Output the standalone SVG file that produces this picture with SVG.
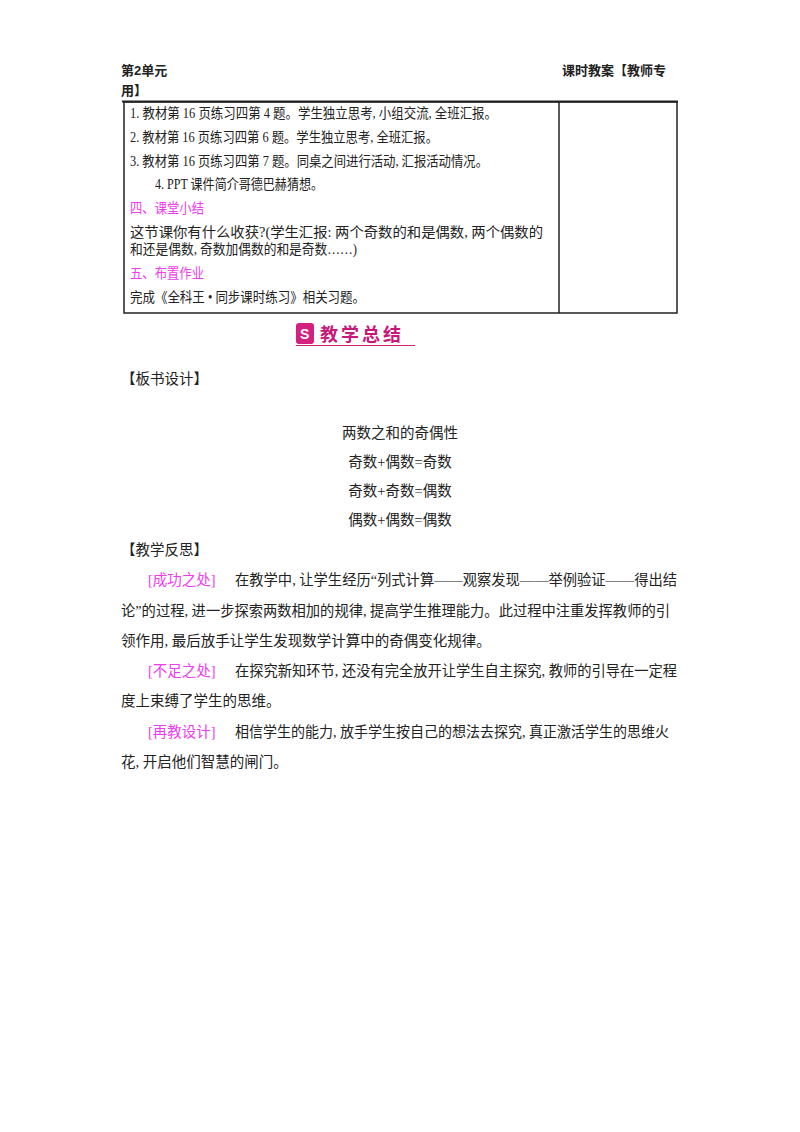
<svg xmlns="http://www.w3.org/2000/svg" width="800" height="1132" viewBox="0 0 800 1132">
<style>
text{font-family:"Liberation Serif","Noto Sans CJK SC",serif;fill:#222;}
.h{font-family:"Liberation Sans","Noto Sans CJK SC",sans-serif;font-size:13px;font-weight:bold;}
.t{font-size:14px;}
.m{fill:#f03cf0;}
.p{font-size:14.5px;}
</style>
<rect width="800" height="1132" fill="#fff"/>
<g id="header">
<text class="h" x="121" y="75">第2单元</text>
<text class="h" x="121" y="95">用】</text>
<text class="h" x="562" y="75">课时教案【教师专</text>
</g>
<g id="table" fill="none" stroke="#222">
<line x1="122" y1="101.5" x2="678" y2="101.5" stroke-width="2"/>
<rect x="124" y="102" width="553" height="211" stroke-width="1.5"/>
<line x1="559" y1="102" x2="559" y2="313" stroke-width="1.5"/>
</g>
<g id="table-text" class="t">
<text x="130" y="118" textLength="367" lengthAdjust="spacingAndGlyphs">1. 教材第 16 页练习四第 4 题。学生独立思考, 小组交流, 全班汇报。</text>
<text x="130" y="142" textLength="308" lengthAdjust="spacingAndGlyphs">2. 教材第 16 页练习四第 6 题。学生独立思考, 全班汇报。</text>
<text x="130" y="166" textLength="358" lengthAdjust="spacingAndGlyphs">3. 教材第 16 页练习四第 7 题。同桌之间进行活动, 汇报活动情况。</text>
<text x="155" y="189" textLength="168" lengthAdjust="spacingAndGlyphs">4. PPT 课件简介哥德巴赫猜想。</text>
<text x="130" y="213" class="m" textLength="74" lengthAdjust="spacingAndGlyphs">四、课堂小结</text>
<text x="130" y="237" textLength="413" lengthAdjust="spacingAndGlyphs">这节课你有什么收获?(学生汇报: 两个奇数的和是偶数, 两个偶数的</text>
<text x="130" y="254" textLength="227" lengthAdjust="spacingAndGlyphs">和还是偶数, 奇数加偶数的和是奇数……)</text>
<text x="130" y="278" class="m" textLength="74" lengthAdjust="spacingAndGlyphs">五、布置作业</text>
<text x="130" y="302" textLength="235" lengthAdjust="spacingAndGlyphs">完成《全科王 • 同步课时练习》相关习题。</text>
</g>
<g id="logo">
<rect x="296" y="323" width="18" height="21" rx="3" fill="#d4217f"/>
<text x="300" y="339" style="font-size:14px;fill:#fff;font-weight:bold;font-family:'Liberation Sans',sans-serif">S</text>
<text x="320" y="341" style="font-size:18px;font-weight:bold;fill:#c8197a;font-family:'Noto Sans CJK SC',sans-serif;letter-spacing:3px">教学总结</text>
<line x1="296" y1="345.5" x2="415" y2="345.5" stroke="#d4217f" stroke-width="1"/>
</g>
<g id="board" class="p">
<text x="121" y="384">【板书设计】</text>
<text x="400" y="438" text-anchor="middle">两数之和的奇偶性</text>
<text x="400" y="467" text-anchor="middle">奇数+偶数=奇数</text>
<text x="400" y="496" text-anchor="middle">奇数+奇数=偶数</text>
<text x="400" y="525" text-anchor="middle">偶数+偶数=偶数</text>
</g>
<g id="reflection" class="p">
<text x="121" y="555">【教学反思】</text>
<text x="148" y="585" class="m">[成功之处]</text>
<text x="235" y="585" textLength="442" lengthAdjust="spacingAndGlyphs">在教学中, 让学生经历“列式计算——观察发现——举例验证——得出结</text>
<text x="121" y="616" textLength="549" lengthAdjust="spacingAndGlyphs">论”的过程, 进一步探索两数相加的规律, 提高学生推理能力。此过程中注重发挥教师的引</text>
<text x="121" y="646">领作用, 最后放手让学生发现数学计算中的奇偶变化规律。</text>
<text x="148" y="676" class="m">[不足之处]</text>
<text x="235" y="676" textLength="442" lengthAdjust="spacingAndGlyphs">在探究新知环节, 还没有完全放开让学生自主探究, 教师的引导在一定程</text>
<text x="121" y="706">度上束缚了学生的思维。</text>
<text x="148" y="737" class="m">[再教设计]</text>
<text x="235" y="737" textLength="434" lengthAdjust="spacingAndGlyphs">相信学生的能力, 放手学生按自己的想法去探究, 真正激活学生的思维火</text>
<text x="121" y="767">花, 开启他们智慧的闸门。</text>
</g>
</svg>
